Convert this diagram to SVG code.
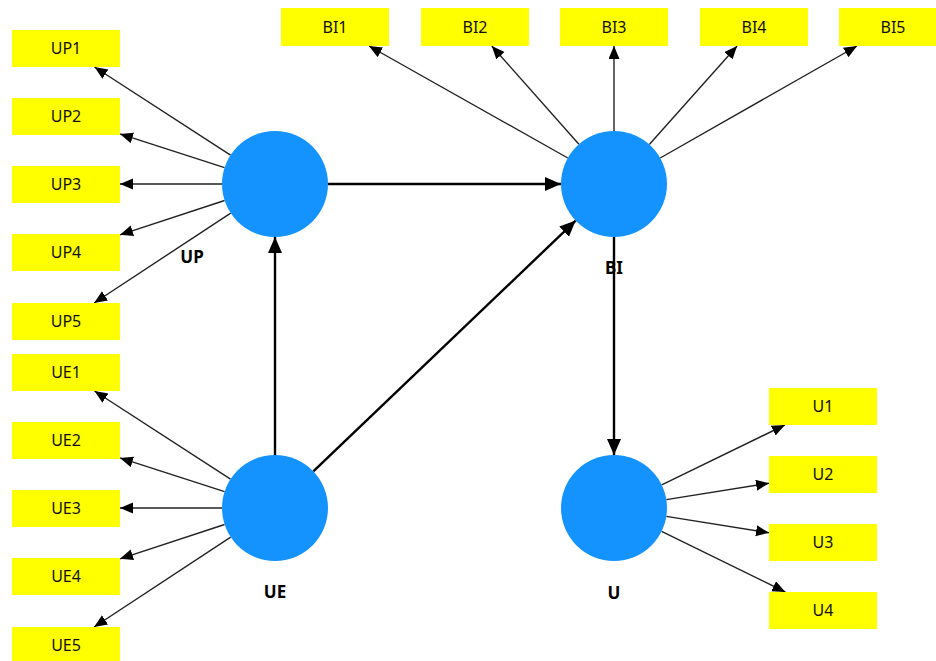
<svg xmlns="http://www.w3.org/2000/svg" width="936" height="661" viewBox="0 0 936 661">
<style>
.box{fill:#FFFF00;}
.bt{font-family:"Noto Sans","Open Sans","Liberation Sans",sans-serif;font-size:16px;fill:#111;text-anchor:middle;}
.lv{fill:#1493FF;}
.lt{font-family:"Noto Sans","Open Sans","Liberation Sans",sans-serif;font-size:17px;font-weight:bold;fill:#000;text-anchor:middle;}
.thin{stroke:#222;stroke-width:1.4;fill:none;marker-end:url(#ah);}
.thick{stroke:#000;stroke-width:2.4;fill:none;marker-end:url(#ahb);}
</style>
<defs>
<marker id="ah" markerUnits="userSpaceOnUse" markerWidth="14" markerHeight="12" refX="13" refY="5.5" orient="auto" viewBox="0 0 14 12">
<path d="M0,0 L13,5.5 L0,11 z" fill="#000"/>
</marker>
<marker id="ahb" markerUnits="userSpaceOnUse" markerWidth="17" markerHeight="15" refX="16" refY="7" orient="auto" viewBox="0 0 17 15">
<path d="M0,0 L16,7 L0,14 z" fill="#000"/>
</marker>
</defs>
<rect width="936" height="661" fill="#fff"/>
<g id="connectors">
<path class="thin" d="M230.5,155.2 L94.5,67"/>
<path class="thin" d="M224.6,167.7 L120,133.9"/>
<path class="thin" d="M222,184 L120,184"/>
<path class="thin" d="M224.6,200.5 L120,234.8"/>
<path class="thin" d="M230.7,213.1 L94.1,303"/>
<path class="thin" d="M230.5,479.2 L94.5,391"/>
<path class="thin" d="M224.6,491.7 L120,457.9"/>
<path class="thin" d="M222,508 L120,508"/>
<path class="thin" d="M224.6,524.5 L120,558.8"/>
<path class="thin" d="M230.7,537.1 L94.1,627"/>
<path class="thin" d="M567.8,158 L369,46"/>
<path class="thin" d="M578.9,144.3 L491.8,46"/>
<path class="thin" d="M614,131 L614,46"/>
<path class="thin" d="M649.3,144.5 L737.1,46"/>
<path class="thin" d="M660.2,158 L857,46"/>
<path class="thin" d="M661.7,484.8 L784.9,425"/>
<path class="thin" d="M666.3,499.6 L769,483.2"/>
<path class="thin" d="M666.3,516.4 L769,532.8"/>
<path class="thin" d="M661.6,531.3 L785.3,592"/>
<path class="thick" d="M328,184 L561,184"/>
<path class="thick" d="M275,455 L275,237"/>
<path class="thick" d="M313.3,471.4 L575.7,220.6"/>
<path class="thick" d="M614,237 L614,455"/>
</g>
<g id="UP"><circle class="lv" cx="275" cy="184" r="53"/><text class="lt" x="192" y="263">UP</text></g>
<g id="BI"><circle class="lv" cx="614" cy="184" r="53"/><text class="lt" x="614" y="274">BI</text></g>
<g id="UE"><circle class="lv" cx="275" cy="508" r="53"/><text class="lt" x="275" y="598">UE</text></g>
<g id="U"><circle class="lv" cx="614" cy="508" r="53"/><text class="lt" x="614" y="599">U</text></g>
<g id="UP1"><rect class="box" x="12" y="30" width="108" height="37"/><text class="bt" x="66" y="54">UP1</text></g>
<g id="UP2"><rect class="box" x="12" y="98" width="108" height="37"/><text class="bt" x="66" y="122">UP2</text></g>
<g id="UP3"><rect class="box" x="12" y="166" width="108" height="37"/><text class="bt" x="66" y="190">UP3</text></g>
<g id="UP4"><rect class="box" x="12" y="234" width="108" height="37"/><text class="bt" x="66" y="258">UP4</text></g>
<g id="UP5"><rect class="box" x="12" y="303" width="108" height="37"/><text class="bt" x="66" y="327">UP5</text></g>
<g id="UE1"><rect class="box" x="12" y="354" width="108" height="37"/><text class="bt" x="66" y="378">UE1</text></g>
<g id="UE2"><rect class="box" x="12" y="422" width="108" height="37"/><text class="bt" x="66" y="446">UE2</text></g>
<g id="UE3"><rect class="box" x="12" y="490" width="108" height="37"/><text class="bt" x="66" y="514">UE3</text></g>
<g id="UE4"><rect class="box" x="12" y="558" width="108" height="37"/><text class="bt" x="66" y="582">UE4</text></g>
<g id="UE5"><rect class="box" x="12" y="627" width="108" height="37"/><text class="bt" x="66" y="651">UE5</text></g>
<g id="BI1"><rect class="box" x="281" y="8" width="108" height="38"/><text class="bt" x="335" y="33">BI1</text></g>
<g id="BI2"><rect class="box" x="421" y="8" width="108" height="38"/><text class="bt" x="475" y="33">BI2</text></g>
<g id="BI3"><rect class="box" x="560" y="8" width="108" height="38"/><text class="bt" x="614" y="33">BI3</text></g>
<g id="BI4"><rect class="box" x="700" y="8" width="108" height="38"/><text class="bt" x="754" y="33">BI4</text></g>
<g id="BI5"><rect class="box" x="839" y="8" width="108" height="38"/><text class="bt" x="893" y="33">BI5</text></g>
<g id="U1"><rect class="box" x="769" y="388" width="108" height="37"/><text class="bt" x="823" y="412">U1</text></g>
<g id="U2"><rect class="box" x="769" y="456" width="108" height="37"/><text class="bt" x="823" y="480">U2</text></g>
<g id="U3"><rect class="box" x="769" y="524" width="108" height="37"/><text class="bt" x="823" y="548">U3</text></g>
<g id="U4"><rect class="box" x="769" y="592" width="108" height="37"/><text class="bt" x="823" y="616">U4</text></g>
</svg>
